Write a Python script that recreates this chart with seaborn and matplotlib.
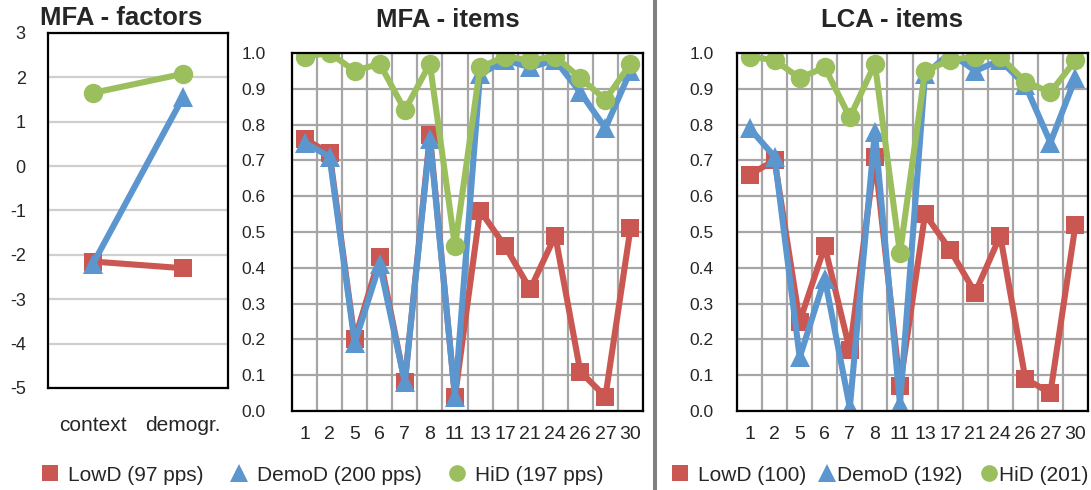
import matplotlib
matplotlib.use("Agg")
import matplotlib.pyplot as plt
from matplotlib.lines import Line2D
import seaborn as sns
import pandas as pd

# ---------------- data ----------------
groups = ["LowD", "DemoD", "HiD"]
factors = ["context", "demogr."]
factor_lowd = [-2.15, -2.30]
factor_demod = [-2.2, 1.55]
factor_hid = [1.65, 2.08]

items = ["1", "2", "5", "6", "7", "8", "11", "13", "17", "21", "24", "26", "27", "30"]
mfa_lowd = [0.76, 0.72, 0.20, 0.43, 0.08, 0.77, 0.04, 0.56, 0.46, 0.34, 0.49, 0.11, 0.04, 0.51]
mfa_demod = [0.75, 0.71, 0.19, 0.41, 0.08, 0.76, 0.04, 0.94, 0.98, 0.96, 0.98, 0.89, 0.79, 0.95]
mfa_hid = [0.99, 1.00, 0.95, 0.97, 0.84, 0.97, 0.46, 0.96, 0.99, 0.98, 0.99, 0.93, 0.87, 0.97]

lca_lowd = [0.66, 0.70, 0.25, 0.46, 0.17, 0.71, 0.07, 0.55, 0.45, 0.33, 0.49, 0.09, 0.05, 0.52]
lca_demod = [0.79, 0.71, 0.15, 0.37, 0.01, 0.78, 0.02, 0.94, 1.00, 0.95, 0.98, 0.91, 0.75, 0.93]
lca_hid = [0.99, 0.98, 0.93, 0.96, 0.82, 0.97, 0.44, 0.95, 0.98, 0.99, 0.99, 0.92, 0.89, 0.98]

legend_left = ["LowD (97 pps)", "DemoD (200 pps)", "HiD (197 pps)"]
legend_right = ["LowD (100)", "DemoD (192)", "HiD (201)"]

# ---------------- style ----------------
sns.set_theme(style="white")
plt.rcParams["font.family"] = ["Liberation Sans", "DejaVu Sans"]
plt.rcParams["axes.unicode_minus"] = False

colors = ["#CB5752", "#5B96CF", "#9CBF5E"]
markers = ["s", "^", "o"]
msizes = [12.5, 15, 14]

W, H = 1091, 490
fig = plt.figure(figsize=(W / 100, H / 100), dpi=100)


def px_axes(x0, y0, x1, y1):
    return fig.add_axes([x0 / W, 1 - y1 / H, (x1 - x0) / W, (y1 - y0) / H])


def long_df(cats, series):
    rows = []
    for g, vals in zip(groups, series):
        for i, (c, v) in enumerate(zip(cats, vals)):
            rows.append({"cat": c, "pos": i, "val": v, "group": g})
    return pd.DataFrame(rows)


def draw(ax, cats, series):
    df = long_df(cats, series)
    for g, col, mk, ms in zip(groups, colors, markers, msizes):
        sub = df[df["group"] == g]
        sns.lineplot(data=sub, x="pos", y="val", color=col, marker=mk,
                     markersize=ms, linewidth=4.4, markeredgewidth=0,
                     errorbar=None, sort=False, ax=ax)
    ax.set_xticks(range(len(cats)))
    ax.set_xticklabels(cats)
    ax.set_xlabel("")
    ax.set_ylabel("")
    ax.set_xlim(-0.5, len(cats) - 0.5)


# ---- left panel: MFA factors ----
ax0 = px_axes(48, 33, 228, 388)
draw(ax0, factors, [factor_lowd, factor_demod, factor_hid])
ax0.set_ylim(-5, 3)
ax0.set_yticks(range(-5, 4))
ax0.set_yticklabels([str(v) for v in range(-5, 4)])
ax0.yaxis.grid(True, color="#CFCFCF", lw=1.6)
ax0.set_axisbelow(True)
ax0.tick_params(axis="y", length=0, pad=16, labelsize=13)
ax0.tick_params(axis="x", length=0, pad=20, labelsize=15)

# ---- items panels ----
def items_panel(ax, series, ypad):
    draw(ax, items, series)
    ax.set_ylim(0, 1.0)
    ax.set_yticks([i / 10 for i in range(11)])
    ax.set_yticklabels([f"{i / 10:.1f}" for i in range(11)])
    ax.set_xticks([i - 0.5 for i in range(len(items) + 1)], minor=True)
    ax.xaxis.grid(True, which="minor", color="#A6A6A6", lw=1.6)
    ax.xaxis.grid(False, which="major")
    ax.yaxis.grid(True, color="#A6A6A6", lw=1.6)
    ax.set_axisbelow(True)
    ax.tick_params(axis="y", length=0, pad=ypad, labelsize=12.5)
    ax.tick_params(axis="x", which="both", length=0, pad=11, labelsize=14)


ax1 = px_axes(292, 53, 643, 411)
items_panel(ax1, [mfa_lowd, mfa_demod, mfa_hid], 19)
ax2 = px_axes(737, 53, 1088, 411)
items_panel(ax2, [lca_lowd, lca_demod, lca_hid], 17)

for ax in (ax0, ax1, ax2):
    for s in ax.spines.values():
        s.set_color("black")
        s.set_linewidth(1.6)
        s.set_visible(True)

# ---- titles ----
fig.text(121 / W, 1 - 18 / H, "MFA - factors", ha="center", va="center",
         fontsize=18.5, fontweight="bold")
fig.text(448 / W, 1 - 20 / H, "MFA - items", ha="center", va="center",
         fontsize=18.5, fontweight="bold")
fig.text(892 / W, 1 - 20 / H, "LCA - items", ha="center", va="center",
         fontsize=18.5, fontweight="bold")

# ---- separator ----
fig.add_artist(Line2D([654.7 / W, 654.7 / W], [0, 1], color="#808080", lw=2.9,
                      transform=fig.transFigure))

# ---- legends ----
def legend_entry(label, color, marker, ms, xpx, ypx, pad):
    h = Line2D([], [], color=color, marker=marker, markersize=ms, lw=0,
               markeredgewidth=0)
    fig.legend(handles=[h], labels=[label], loc="center left",
               bbox_to_anchor=(xpx / W, 1 - ypx / H), frameon=False,
               handlelength=0.8, handletextpad=pad, borderpad=0,
               borderaxespad=0, fontsize=15)

lx = [42, 231, 449]
lms = [11, 13, 12]
for lab, c, m, x, ms in zip(legend_left, colors, markers, lx, lms):
    legend_entry(lab, c, m, ms, x, 475, 0.45)
rx = [672, 819, 981]
rpads = [0.45, 0.05, 0.05]
for lab, c, m, x, p, ms in zip(legend_right, colors, markers, rx, rpads, lms):
    legend_entry(lab, c, m, ms, x, 475, p)

fig.savefig("out.png", dpi=100)
